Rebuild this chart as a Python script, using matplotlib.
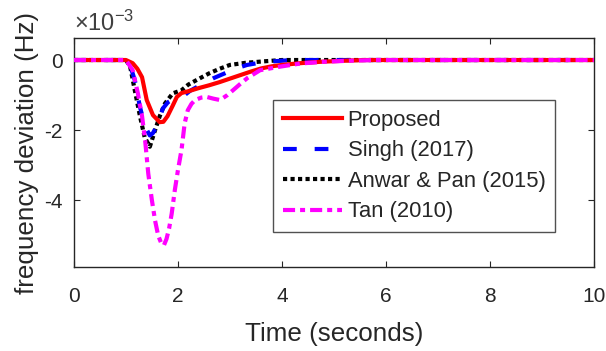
import matplotlib
matplotlib.use("Agg")
import matplotlib.pyplot as plt
from matplotlib.ticker import FuncFormatter

plt.rcParams['font.family'] = ['Liberation Sans', 'DejaVu Sans']
plt.rcParams['axes.unicode_minus'] = False
plt.rcParams['mathtext.fontset'] = 'custom'
plt.rcParams['mathtext.rm'] = 'Liberation Sans'
plt.rcParams['mathtext.it'] = 'Liberation Sans'

# Data (frequency deviation in units of 1e-3 Hz)
t_prop = [0, 1.0, 1.13, 1.22, 1.31, 1.40, 1.52, 1.65, 1.72, 1.80, 1.90, 1.98, 2.07, 2.2, 2.4, 2.6, 2.8, 3.0, 3.2, 3.4, 3.6, 3.8, 4.0, 4.35, 4.75, 5.2, 5.6, 10]
f_prop = [0, 0, -0.09, -0.25, -0.49, -1.14, -1.57, -1.77, -1.76, -1.60, -1.30, -1.05, -0.94, -0.89, -0.80, -0.72, -0.63, -0.53, -0.43, -0.33, -0.24, -0.18, -0.14, -0.09, -0.05, -0.02, 0, 0]

t_singh = [0, 1.0, 1.08, 1.17, 1.27, 1.37, 1.46, 1.52, 1.60, 1.71, 1.81, 1.95, 2.13, 2.23, 2.45, 2.68, 2.9, 3.1, 3.33, 3.6, 3.9, 4.2, 10]
f_singh = [0, 0, -0.15, -0.57, -1.34, -1.90, -2.15, -2.08, -1.86, -1.38, -1.20, -1.08, -1.0, -0.88, -0.70, -0.52, -0.38, -0.25, -0.14, -0.07, -0.03, 0, 0]

t_anwar = [0, 1.0, 1.08, 1.17, 1.27, 1.36, 1.46, 1.56, 1.65, 1.75, 1.90, 2.07, 2.2, 2.36, 2.6, 2.8, 3.0, 3.3, 3.63, 4.0, 10]
f_anwar = [0, 0, -0.18, -0.86, -1.60, -2.20, -2.47, -2.00, -1.60, -1.24, -0.95, -0.86, -0.70, -0.57, -0.38, -0.25, -0.14, -0.08, -0.04, 0, 0]

t_tan = [0, 1.0, 1.13, 1.23, 1.31, 1.37, 1.43, 1.50, 1.56, 1.62, 1.68, 1.73, 1.78, 1.83, 1.88, 1.94, 2.00, 2.07, 2.13, 2.19, 2.26, 2.33, 2.45, 2.55, 2.68, 2.81, 2.95, 3.06, 3.2, 3.33, 3.58, 3.96, 4.35, 4.8, 5.3, 5.8, 10]
f_tan = [0, 0, -0.29, -0.95, -1.60, -2.30, -3.24, -4.00, -4.57, -5.00, -5.22, -5.28, -5.10, -4.80, -4.38, -3.71, -3.14, -2.55, -1.80, -1.43, -1.25, -1.14, -1.07, -1.05, -1.10, -1.14, -1.00, -0.86, -0.68, -0.52, -0.29, -0.19, -0.10, -0.05, -0.02, 0, 0]

labels = ['Proposed', 'Singh (2017)', 'Anwar & Pan (2015)', 'Tan (2010)']
x_ticks = [0, 2, 4, 6, 8, 10]
y_ticks = [-4, -2, 0]

scale = 1e-3
fig = plt.figure(figsize=(6.06, 3.51), dpi=100)
ax = fig.add_axes([0.122, 0.239, 0.858, 0.653])

lw = 3.0
ax.plot(t_prop, [v * scale for v in f_prop], color='#ff0000', lw=lw, ls='-', label=labels[0], zorder=5)
ax.plot(t_singh, [v * scale for v in f_singh], color='#0000ff', lw=lw, dashes=(3.3, 4.3), label=labels[1], zorder=4)
ax.plot(t_anwar, [v * scale for v in f_anwar], color='black', lw=lw, dashes=(1.0, 0.8), label=labels[2], zorder=3)
ax.plot(t_tan, [v * scale for v in f_tan], color='#ff00ff', lw=lw, dashes=(2.9, 1.2, 1.2, 1.2), label=labels[3], zorder=6)

ax.set_xlim(0, 10)
ax.set_ylim(-5.9e-3, 0.63e-3)
ax.set_xticks(x_ticks)
ax.set_yticks([v * scale for v in y_ticks])
ax.yaxis.set_major_formatter(FuncFormatter(lambda v, p: '%g' % round(v / scale, 6)))

ax.text(0.0, 1.008, r'$\times\mathregular{10^{-3}}$', transform=ax.transAxes,
        fontsize=17, color='#404040', ha='left', va='bottom')

ax.tick_params(direction='in', top=True, right=True, length=4.5, width=0.8,
               labelsize=15, colors='#262626')
ax.tick_params(axis='x', pad=14.5)
ax.tick_params(axis='y', pad=8)
for s in ax.spines.values():
    s.set_color('#262626')
    s.set_linewidth(1.0)

ax.set_xlabel('Time (seconds)', fontsize=18.7, color='#262626', labelpad=11)
ax.set_ylabel('frequency deviation (Hz)', fontsize=18.7, color='#262626', labelpad=4)

leg = ax.legend(loc='upper left', bbox_to_anchor=(273 / 606, 1 - 100 / 351),
                bbox_transform=fig.transFigure, fontsize=15.8, frameon=True,
                fancybox=False, edgecolor='#262626', handlelength=2.7,
                handletextpad=0.25, borderaxespad=0, labelspacing=0.43,
                borderpad=0.45)
leg.get_frame().set_linewidth(1.0)
for txt in leg.get_texts():
    txt.set_color('#262626')

fig.savefig('out.png', dpi=100)
